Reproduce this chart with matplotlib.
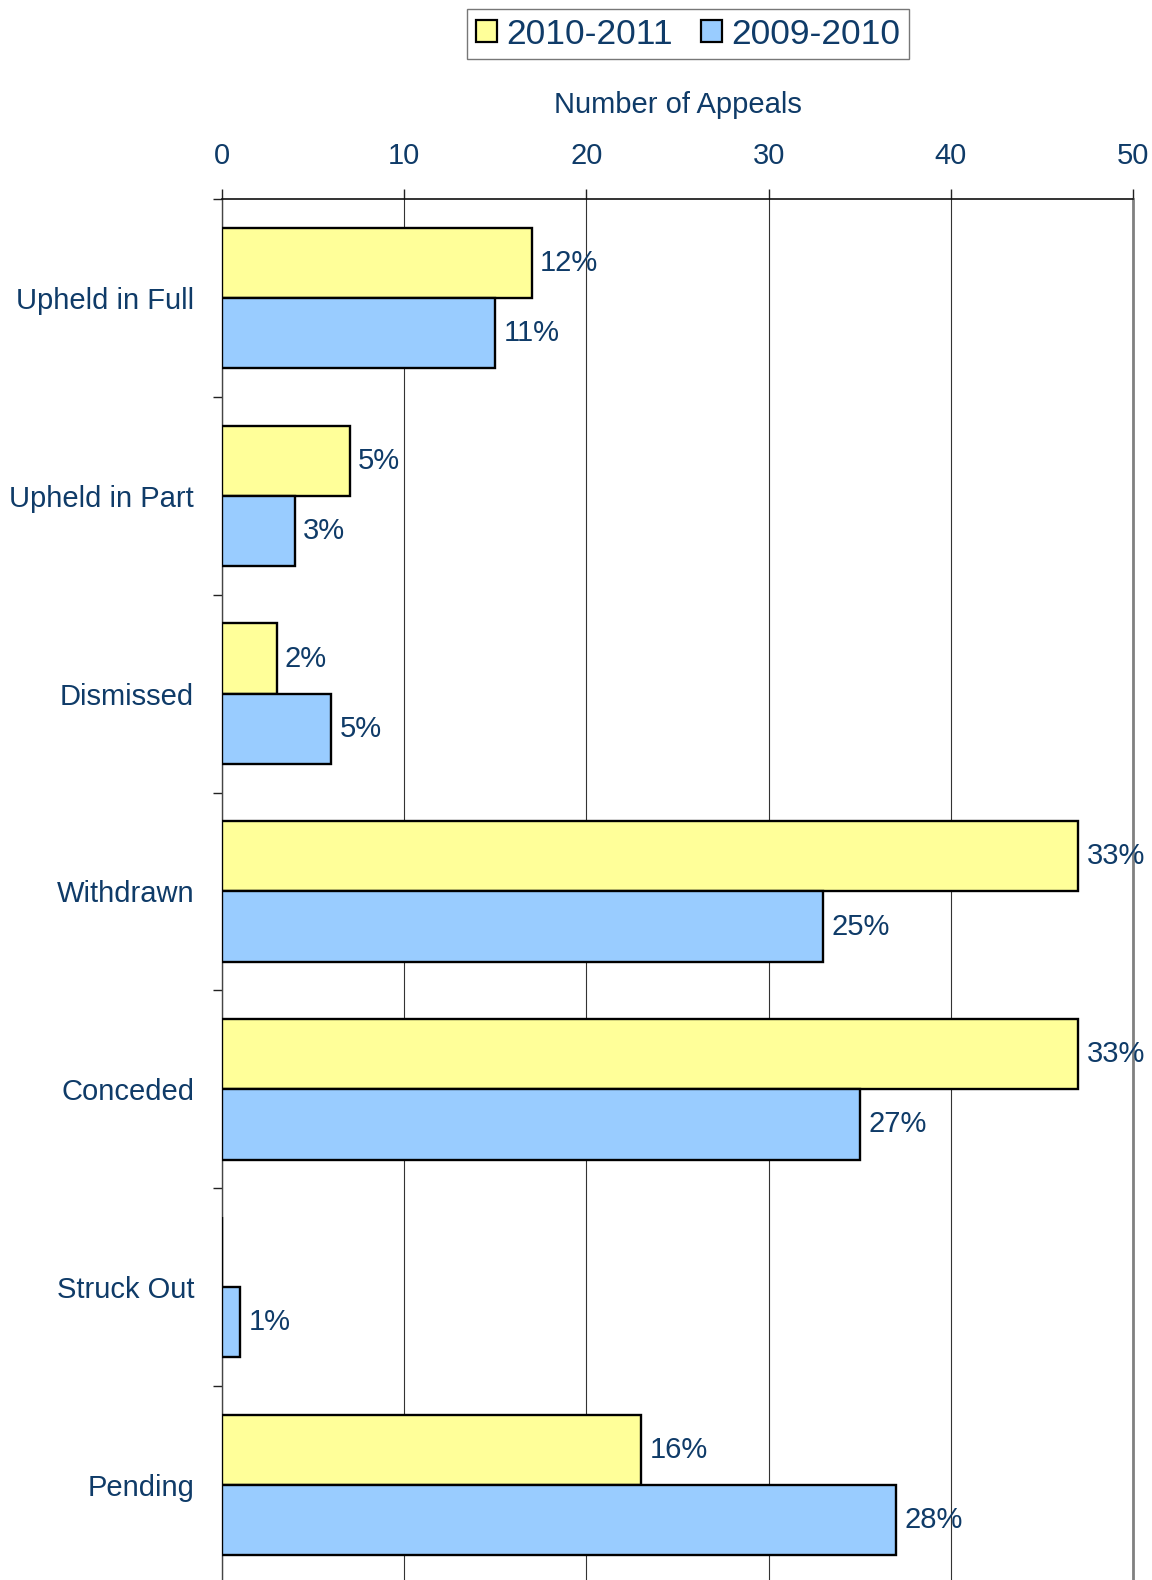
import matplotlib
matplotlib.use("Agg")
import matplotlib.pyplot as plt
from matplotlib.patches import Patch

categories = ["Upheld in Full", "Upheld in Part", "Dismissed", "Withdrawn",
              "Conceded", "Struck Out", "Pending"]
series_names = ["2010-2011", "2009-2010"]
values_2010_11 = [17, 7, 3, 47, 47, 0, 23]
values_2009_10 = [15, 4, 6, 33, 35, 1, 37]
labels_2010_11 = ["12%", "5%", "2%", "33%", "33%", "", "16%"]
labels_2009_10 = ["11%", "3%", "5%", "25%", "27%", "1%", "28%"]
x_ticks = [0, 10, 20, 30, 40, 50]

TXT = "#0F3B68"
YELLOW = "#FFFF99"
BLUE = "#99CCFF"
FS = 21
plt.rcParams["font.family"] = ["Liberation Sans", "DejaVu Sans"]

fig = plt.figure(figsize=(11.52, 15.8), dpi=100)
ax = fig.add_axes([222 / 1152, -4 / 1580, (1133 - 222) / 1152, 1385 / 1580])

n = len(categories)
bh = 0.355
centers = [i + 0.5 for i in range(n)]
y1 = [c - bh / 2 for c in centers]
y2 = [c + bh / 2 for c in centers]

ax.barh(y1, values_2010_11, height=bh, color=YELLOW, edgecolor="black", linewidth=1.7, zorder=3)
ax.barh(y2, values_2009_10, height=bh, color=BLUE, edgecolor="black", linewidth=1.7, zorder=3)

for y, v, lab in zip(y1, values_2010_11, labels_2010_11):
    if lab:
        ax.annotate(lab, (v, y), xytext=(6, 0), textcoords="offset points",
                    ha="left", va="center", fontsize=FS, color=TXT, zorder=5)
for y, v, lab in zip(y2, values_2009_10, labels_2009_10):
    if lab:
        ax.annotate(lab, (v, y), xytext=(6, 0), textcoords="offset points",
                    ha="left", va="center", fontsize=FS, color=TXT, zorder=5)

ax.set_xlim(0, 50)
ax.set_ylim(n, 0)
ax.xaxis.tick_top()
ax.xaxis.set_label_position("top")
ax.set_xticks(x_ticks)
ax.set_xticklabels([str(t) for t in x_ticks])
ax.tick_params(axis="x", direction="out", length=7, width=1, color="#222222",
               labelsize=FS, labelcolor=TXT, pad=14)
ax.set_xlabel("Number of Appeals", fontsize=FS, color=TXT, labelpad=21)

ax.set_yticks(list(range(n + 1)))
ax.set_yticklabels([""] * (n + 1))
ax.set_yticks(centers, minor=True)
ax.set_yticklabels(categories, minor=True)
ax.tick_params(axis="y", which="major", direction="out", length=6.5, width=1, color="#222222")
ax.tick_params(axis="y", which="minor", length=0, labelsize=FS, labelcolor=TXT, pad=20)

ax.grid(axis="x", color="#333333", linewidth=0.8, zorder=0)
ax.set_axisbelow(True)

ax.spines["top"].set_color("#111111")
ax.spines["top"].set_linewidth(1.2)
ax.spines["left"].set_color("#444444")
ax.spines["left"].set_linewidth(1.0)
ax.spines["right"].set_color("#808080")
ax.spines["right"].set_linewidth(2.0)
ax.spines["bottom"].set_visible(False)

handles = [Patch(facecolor=YELLOW, edgecolor="black", linewidth=1.6),
           Patch(facecolor=BLUE, edgecolor="black", linewidth=1.6)]
leg = fig.legend(handles, series_names, loc="upper center",
                 bbox_to_anchor=(688 / 1152, 1 - 9 / 1580), ncol=2,
                 fontsize=25.5, frameon=True, fancybox=False,
                 handlelength=0.6, handleheight=0.6, handletextpad=0.25,
                 columnspacing=0.8, borderpad=0.24, borderaxespad=0)
leg.get_frame().set_edgecolor("#555555")
leg.get_frame().set_linewidth(1.0)
for t in leg.get_texts():
    t.set_color(TXT)

fig.savefig("out.png", dpi=100)
